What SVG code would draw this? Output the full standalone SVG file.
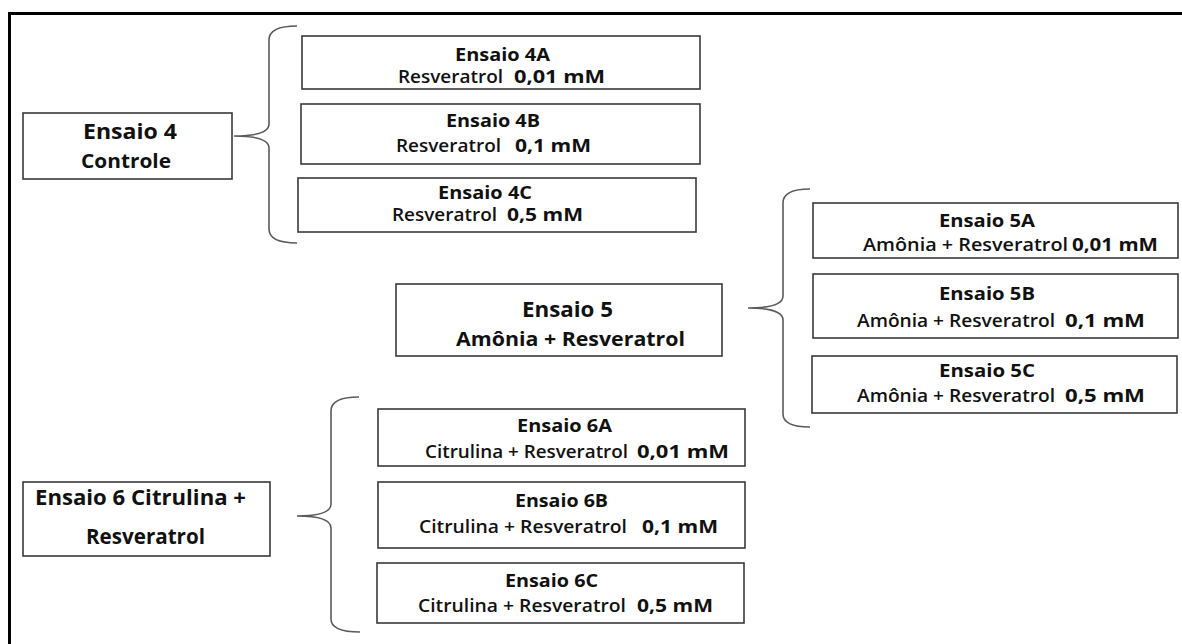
<svg xmlns="http://www.w3.org/2000/svg" width="1182" height="644" viewBox="0 0 1182 644">
<style>
.box{fill:#fff;stroke:#3a3a3a;stroke-width:1.6}
.brace{fill:none;stroke:#5a5a5a;stroke-width:1.6}
.frame{fill:none;stroke:#000;stroke-width:3}
text{font-family:"Open Sans","Noto Sans","Liberation Sans",sans-serif;fill:#111}
.t{font-weight:700;font-size:17.5px}
.l{font-weight:600;font-size:17.5px}
.v{font-weight:700;font-size:18px}
.pt{font-weight:700;font-size:22px}
.ps{font-weight:700;font-size:20px}
</style>
<rect x="0" y="0" width="1182" height="644" fill="#fff"/>
<path class="frame" d="M9.5,644 V13.5 H1182"/>
<g id="connectors">
<path class="brace" d="M297,26 Q269,26 269,40 L269,124 Q269,136 234,136 Q269,136 269,148 L269,229 Q269,243 297,243"/>
<path class="brace" d="M810,189 Q783,189 783,203 L783,296 Q783,308 748,308 Q783,308 783,320 L783,414 Q783,427 810,427"/>
<path class="brace" d="M359,397 Q331,397 331,411 L331,504 Q331,516 297,516 Q331,516 331,528 L331,619 Q331,632 360,632"/>
</g>
<g id="ensaio4">
<rect class="box" x="23" y="113" width="209" height="66"/>
<text class="pt" x="83" y="139" textLength="94" lengthAdjust="spacingAndGlyphs">Ensaio 4</text>
<text class="ps" x="81" y="168" textLength="90" lengthAdjust="spacingAndGlyphs">Controle</text>
</g>
<g id="ensaio4A">
<rect class="box" x="302" y="36" width="398" height="53"/>
<text class="t" x="455" y="61" textLength="95" lengthAdjust="spacingAndGlyphs">Ensaio 4A</text>
<text class="l" x="398" y="83" textLength="105" lengthAdjust="spacingAndGlyphs">Resveratrol</text>
<text class="v" x="514" y="83" textLength="91" lengthAdjust="spacingAndGlyphs">0,01 mM</text>
</g>
<g id="ensaio4B">
<rect class="box" x="301" y="104" width="399" height="60"/>
<text class="t" x="446" y="127" textLength="94" lengthAdjust="spacingAndGlyphs">Ensaio 4B</text>
<text class="l" x="396" y="152" textLength="105" lengthAdjust="spacingAndGlyphs">Resveratrol</text>
<text class="v" x="515" y="152" textLength="76" lengthAdjust="spacingAndGlyphs">0,1 mM</text>
</g>
<g id="ensaio4C">
<rect class="box" x="298" y="178" width="398" height="54"/>
<text class="t" x="438" y="199" textLength="94" lengthAdjust="spacingAndGlyphs">Ensaio 4C</text>
<text class="l" x="392" y="221" textLength="105" lengthAdjust="spacingAndGlyphs">Resveratrol</text>
<text class="v" x="507" y="221" textLength="76" lengthAdjust="spacingAndGlyphs">0,5 mM</text>
</g>
<g id="ensaio5">
<rect class="box" x="396" y="284" width="326" height="72"/>
<text class="pt" x="522" y="317" textLength="91" lengthAdjust="spacingAndGlyphs">Ensaio 5</text>
<text class="ps" x="456" y="346" textLength="229" lengthAdjust="spacingAndGlyphs">Amônia + Resveratrol</text>
</g>
<g id="ensaio5A">
<rect class="box" x="813" y="203" width="365" height="55"/>
<text class="t" x="939" y="227" textLength="96" lengthAdjust="spacingAndGlyphs">Ensaio 5A</text>
<text class="l" x="863" y="251" textLength="205" lengthAdjust="spacingAndGlyphs">Amônia + Resveratrol</text>
<text class="v" x="1072" y="251" textLength="86" lengthAdjust="spacingAndGlyphs">0,01 mM</text>
</g>
<g id="ensaio5B">
<rect class="box" x="813" y="274" width="365" height="64"/>
<text class="t" x="939" y="300" textLength="96" lengthAdjust="spacingAndGlyphs">Ensaio 5B</text>
<text class="l" x="857" y="327" textLength="198" lengthAdjust="spacingAndGlyphs">Amônia + Resveratrol</text>
<text class="v" x="1065" y="327" textLength="80" lengthAdjust="spacingAndGlyphs">0,1 mM</text>
</g>
<g id="ensaio5C">
<rect class="box" x="812" y="356" width="365" height="57"/>
<text class="t" x="939" y="377" textLength="96" lengthAdjust="spacingAndGlyphs">Ensaio 5C</text>
<text class="l" x="857" y="402" textLength="198" lengthAdjust="spacingAndGlyphs">Amônia + Resveratrol</text>
<text class="v" x="1065" y="402" textLength="80" lengthAdjust="spacingAndGlyphs">0,5 mM</text>
</g>
<g id="ensaio6">
<rect class="box" x="23" y="482" width="247" height="74"/>
<text class="pt" x="35" y="505" textLength="211" lengthAdjust="spacingAndGlyphs">Ensaio 6 Citrulina +</text>
<text class="pt" x="86" y="544" textLength="119" lengthAdjust="spacingAndGlyphs">Resveratrol</text>
</g>
<g id="ensaio6A">
<rect class="box" x="378" y="409" width="367" height="57"/>
<text class="t" x="517" y="432" textLength="95" lengthAdjust="spacingAndGlyphs">Ensaio 6A</text>
<text class="l" x="425" y="458" textLength="203" lengthAdjust="spacingAndGlyphs">Citrulina + Resveratrol</text>
<text class="v" x="637" y="458" textLength="92" lengthAdjust="spacingAndGlyphs">0,01 mM</text>
</g>
<g id="ensaio6B">
<rect class="box" x="378" y="482" width="367" height="66"/>
<text class="t" x="515" y="507" textLength="93" lengthAdjust="spacingAndGlyphs">Ensaio 6B</text>
<text class="l" x="419" y="533" textLength="208" lengthAdjust="spacingAndGlyphs">Citrulina + Resveratrol</text>
<text class="v" x="642" y="533" textLength="76" lengthAdjust="spacingAndGlyphs">0,1 mM</text>
</g>
<g id="ensaio6C">
<rect class="box" x="377" y="563" width="367" height="60"/>
<text class="t" x="505" y="587" textLength="93" lengthAdjust="spacingAndGlyphs">Ensaio 6C</text>
<text class="l" x="418" y="612" textLength="208" lengthAdjust="spacingAndGlyphs">Citrulina + Resveratrol</text>
<text class="v" x="637" y="612" textLength="76" lengthAdjust="spacingAndGlyphs">0,5 mM</text>
</g>
</svg>
